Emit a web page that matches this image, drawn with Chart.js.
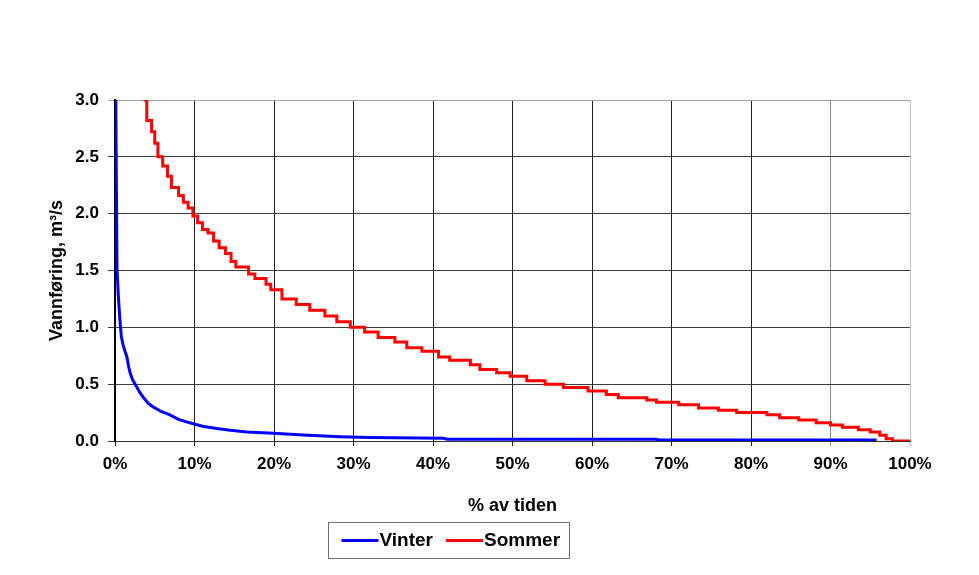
<!DOCTYPE html>
<html>
<head>
<meta charset="utf-8">
<script src="https://cdn.jsdelivr.net/npm/chart.js@4"></script>
<style>
  html, body { margin: 0; padding: 0; background: #fff; }
  canvas { display: block; }
</style>
</head>
<body>
<canvas id="chart" width="979" height="575"></canvas>
<script>
// varighetskurver: % av tiden mot vannføring (m3/s)
const vinterTid = [0.1, 0.25, 0.3, 0.4, 0.6, 0.8, 1.0, 1.2, 1.5, 1.7, 1.9, 2.2, 2.7, 3.1, 3.6, 4.2, 4.8, 5.8, 6.9, 8.0, 9.4, 11.0, 12.8, 14.5, 16.6, 19.9, 23.7, 28.3, 32.0, 41.3, 41.8, 68.0, 68.5, 95.8];
const vinterQ   = [3.0, 1.5, 1.45, 1.30, 1.08, 0.92, 0.85, 0.80, 0.74, 0.66, 0.60, 0.54, 0.48, 0.43, 0.38, 0.33, 0.30, 0.26, 0.23, 0.19, 0.16, 0.13, 0.11, 0.095, 0.08, 0.068, 0.053, 0.038, 0.030, 0.024, 0.015, 0.015, 0.008, 0.008];

// sommer er trinnvis: start på hvert trinn og nivået
const sommerTid = [3.6, 4.0, 4.6, 5.0, 5.4, 6.0, 6.6, 7.1, 8.0, 8.6, 9.2, 9.8, 10.4, 11.0, 11.7, 12.4, 13.1, 13.9, 14.6, 15.2, 16.8, 17.6, 19.0, 19.6,
                   21.0, 22.8, 24.5, 26.4, 27.9, 29.6, 31.4, 33.1, 35.2, 36.7, 38.6, 40.7, 42.1, 44.7, 45.9, 48.0, 49.7, 51.8, 54.1, 56.4,
                   59.5, 61.8, 63.3, 66.9, 68.1, 70.9, 73.4, 75.9, 78.2, 82.0, 83.6, 86.0, 88.2, 90.0, 91.5, 93.5, 95.0, 96.2, 97.0, 97.8, 100];
const sommerQ   = [3.00, 2.82, 2.72, 2.62, 2.50, 2.42, 2.33, 2.23, 2.16, 2.10, 2.05, 1.98, 1.92, 1.86, 1.83, 1.76, 1.70, 1.65, 1.58, 1.53, 1.47, 1.43, 1.38, 1.33,
                   1.25, 1.20, 1.15, 1.10, 1.05, 1.00, 0.96, 0.91, 0.87, 0.82, 0.79, 0.74, 0.71, 0.67, 0.63, 0.60, 0.57, 0.53, 0.50, 0.47,
                   0.44, 0.41, 0.38, 0.36, 0.34, 0.32, 0.29, 0.27, 0.25, 0.23, 0.205, 0.185, 0.16, 0.14, 0.12, 0.10, 0.08, 0.05, 0.02, 0.0, 0.0];

const xTickLabels = ['0%', '10%', '20%', '30%', '40%', '50%', '60%', '70%', '80%', '90%', '100%'];
const yTickLabels = ['0.0', '0.5', '1.0', '1.5', '2.0', '2.5', '3.0'];

const FONT = '"Liberation Sans", Arial, sans-serif';
const toPoints = (xs, ys) => xs.map((x, i) => ({ x: x, y: ys[i] }));

// legend med ramme under aksetittelen
const boxLegend = {
  id: 'boxLegend',
  afterDraw(chart) {
    const ctx = chart.ctx;
    const left = 328.5, top = 522.5, w = 241, h = 36;
    ctx.save();
    ctx.strokeStyle = '#707070';
    ctx.lineWidth = 1;
    ctx.strokeRect(left, top, w, h);
    ctx.font = 'bold 19px ' + FONT;
    ctx.textBaseline = 'middle';
    ctx.textAlign = 'left';
    let x = left + 13;
    const y = top + h / 2;
    chart.data.datasets.forEach(ds => {
      ctx.strokeStyle = ds.borderColor;
      ctx.lineWidth = 3;
      ctx.beginPath();
      ctx.moveTo(x, y);
      ctx.lineTo(x + 37, y);
      ctx.stroke();
      ctx.fillStyle = '#000';
      ctx.fillText(ds.label, x + 38, y);
      x += 38 + ctx.measureText(ds.label).width + 13;
    });
    ctx.restore();
  }
};

new Chart(document.getElementById('chart'), {
  type: 'line',
  data: {
    datasets: [
      { label: 'Vinter', data: toPoints(vinterTid, vinterQ), borderColor: '#0000ff', borderWidth: 3, pointRadius: 0, tension: 0 },
      { label: 'Sommer', data: toPoints(sommerTid, sommerQ), borderColor: '#ff0000', borderWidth: 3, pointRadius: 0, stepped: true }
    ]
  },
  options: {
    responsive: false,
    animation: false,
    layout: { padding: { left: 0, top: 100, right: 69, bottom: 50 } },
    plugins: { legend: { display: false }, tooltip: { enabled: false } },
    scales: {
      x: {
        type: 'linear', min: 0, max: 100,
        afterFit: s => { s.height = 84; },
        ticks: {
          stepSize: 10, padding: 8, color: '#000', maxRotation: 0,
          font: { family: FONT, size: 17, weight: 'bold' },
          callback: (v, i) => xTickLabels[i]
        },
        grid: {
          tickLength: 5,
          color: c => c.tick && c.tick.value === 100 ? '#c4c4c4' : (c.tick && c.tick.value === 90 ? '#8c8c8c' : '#1e1e1e')
        },
        border: { color: '#303030', width: 1 },
        title: { display: true, text: '% av tiden', color: '#000', padding: { bottom: 8 }, font: { family: FONT, size: 18, weight: 'bold' } }
      },
      y: {
        min: 0, max: 3,
        afterFit: s => { s.width = 115; },
        ticks: {
          stepSize: 0.5, padding: 9, color: '#000',
          font: { family: FONT, size: 17, weight: 'bold' },
          callback: (v, i) => yTickLabels[i]
        },
        grid: {
          tickLength: 7,
          color: c => c.tick && c.tick.value === 3 ? '#a0a0a0' : '#3c3c3c'
        },
        border: { color: '#000', width: 2 },
        title: { display: true, text: 'Vannføring, m³/s', color: '#000', padding: { top: 46 }, font: { family: FONT, size: 18, weight: 'bold' } }
      }
    }
  },
  plugins: [boxLegend]
});
</script>
</body>
</html>
